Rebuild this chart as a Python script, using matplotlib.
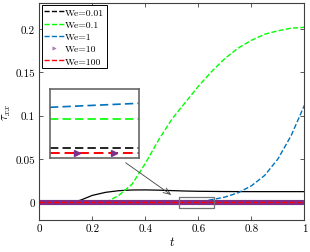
import numpy as np
import matplotlib
matplotlib.use('Agg')
import matplotlib.pyplot as plt
from matplotlib.patches import Rectangle

plt.rcParams['font.family'] = 'cmr10'
plt.rcParams['mathtext.fontset'] = 'cm'
plt.rcParams['axes.formatter.use_mathtext'] = True

# ---- data ----
# solid black curve (no legend entry)
t_solid = [0, 0.10, 0.13, 0.16, 0.20, 0.25, 0.30, 0.35, 0.40, 0.45,
           0.50, 0.55, 0.60, 0.70, 0.80, 0.90, 1.00]
y_solid = [0, 0, 0, 0.003, 0.008, 0.0115, 0.0134, 0.0142, 0.0143, 0.0140,
           0.0135, 0.0130, 0.0127, 0.0124, 0.0123, 0.0123, 0.0123]

# We=0.1 (green)
t_green = [0, 0.20, 0.25, 0.27, 0.30, 0.35, 0.40, 0.45, 0.50, 0.55,
           0.60, 0.65, 0.70, 0.75, 0.80, 0.85, 0.90, 0.95, 1.00]
y_green = [0, 0, 0, 0.003, 0.008, 0.021, 0.045, 0.072, 0.096, 0.115,
           0.134, 0.151, 0.166, 0.178, 0.187, 0.194, 0.198, 0.201, 0.202]

# We=1 (blue)
t_blue = [0, 0.50, 0.58, 0.62, 0.65, 0.70, 0.75, 0.80, 0.85, 0.90, 0.95, 1.00]
y_blue = [0, 0, 0, 0.0015, 0.003, 0.006, 0.011, 0.019, 0.031, 0.050, 0.077, 0.112]

# We=0.01, We=10, We=100 stay at zero
t_grid = np.linspace(0, 1, 601)
y_zero = np.zeros(len(t_grid))

# inset (arbitrary units, no ticks)
t_in = [0.525, 0.658]
in_blue = [0.735, 0.793]
in_green = [0.558, 0.558]
in_black = [0.142, 0.142]
in_red = [0.075, 0.075]
in_mark_t = [0.565, 0.621]

labels = ['We=0.01', 'We=0.1', 'We=1', 'We=10', 'We=100']
c_green = (0, 1, 0)
c_blue = (0, 0.447, 0.741)
c_purple = (0.494, 0.184, 0.556)

fig = plt.figure(figsize=(3.10, 2.53), dpi=100)
ax = fig.add_axes([0.127, 0.128, 0.855, 0.856])

ax.plot(t_solid, y_solid, color='k', lw=0.9)
ax.plot(t_grid, y_zero, '--', color='k', lw=1, label=labels[0])
ax.plot(t_green, y_green, '--', color=c_green, lw=1, label=labels[1])
ax.plot(t_blue, y_blue, '--', color=c_blue, lw=1, label=labels[2])
ax.plot(t_grid, y_zero, '>', color=c_purple, ms=3.5, mew=0.3, label=labels[3])
ax.plot(t_grid, y_zero, '--', color='r', lw=1, label=labels[4])

ax.set_xlim(0, 1)
ax.set_ylim(-0.02, 0.23)
ax.set_xticks([0, 0.2, 0.4, 0.6, 0.8, 1])
ax.set_xticklabels(['0', '0.2', '0.4', '0.6', '0.8', '1'])
ax.set_yticks([0, 0.05, 0.1, 0.15, 0.2])
ax.set_yticklabels(['0', '0.05', '0.1', '0.15', '0.2'])
ax.tick_params(direction='in', top=True, right=True, length=3, width=0.6,
               labelsize=8, color='0.25', pad=3)
for s in ax.spines.values():
    s.set_color('0.25')
    s.set_linewidth(0.8)
ax.set_xlabel('$t$', fontsize=9, labelpad=1)
ax.set_ylabel(r'$\tau_{xx}$', fontsize=9, labelpad=2)

leg = ax.legend(loc='upper left', fontsize=7, fancybox=False, edgecolor='k',
                framealpha=1, handlelength=2.0, handletextpad=0.15,
                labelspacing=0.35, borderpad=0.25, borderaxespad=0.25)
leg.get_frame().set_linewidth(0.7)
leg.legend_handles[3].set_markersize(2.5)
leg.legend_handles[3].set_alpha(0.6)

# zoom rectangle and arrow
ax.add_patch(Rectangle((0.525, -0.0069), 0.133, 0.0135, fill=False,
                       edgecolor='0.45', lw=0.9, zorder=5))
ax.annotate('', xy=(0.506, 0.0066), xytext=(0.317, 0.0475),
            arrowprops=dict(arrowstyle='->,head_length=0.5,head_width=0.2',
                            color='0.25', lw=0.6))

# inset
axi = fig.add_axes([50 / 310, (253 - 159) / 253, 89.3 / 310, 69 / 253])
axi.plot(t_in, in_black, '--', color='k', lw=1.2, dashes=(5, 2.5))
axi.plot(t_in, in_green, '--', color=c_green, lw=1.2, dashes=(5, 2.5))
axi.plot(t_in, in_blue, '--', color=c_blue, lw=1.2, dashes=(5, 2.5))
axi.plot(t_in, in_red, '--', color='r', lw=1.4, dashes=(5, 2.5))
axi.plot(in_mark_t, [in_red[0]] * len(in_mark_t), '>', color=c_purple, ms=4.5)
axi.set_xlim(t_in[0], t_in[1])
axi.set_ylim(0, 1)
axi.set_xticks([])
axi.set_yticks([])
for s in axi.spines.values():
    s.set_color('0.4')
    s.set_linewidth(1.2)

fig.savefig('out.png', dpi=100)
